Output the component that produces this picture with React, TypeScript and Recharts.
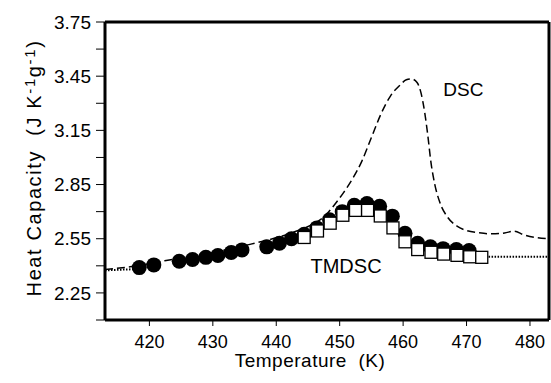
import { ComposedChart, Line, Scatter, XAxis, YAxis, ReferenceDot, ReferenceLine } from "recharts";

const FONT = "'Liberation Sans', Arial, Helvetica, sans-serif";

const X_DOMAIN = [413, 483];
const Y_DOMAIN = [2.1, 3.75];
const X_TICKS = [420, 430, 440, 450, 460, 470, 480];
const Y_TICKS = [2.1, 2.25, 2.4, 2.55, 2.7, 2.85, 3.0, 3.15, 3.3, 3.45, 3.6, 3.75];
const Y_LABELED = ["2.25", "2.55", "2.85", "3.15", "3.45", "3.75"];

// conventional DSC trace (dashed)
const DSC_T = [
  413, 418, 422.4, 426, 430, 433, 436, 440, 443, 446, 447.5, 449, 450.5, 452, 453.5, 455, 456.5,
  458, 459.5, 460.5, 461.3, 462.2, 462.8, 463.4, 463.9, 464.4, 465, 465.8, 467, 468.5, 470, 472,
  474, 476, 477.5, 479, 481, 483,
];
const DSC_CP = [
  2.38, 2.4, 2.428, 2.45, 2.475, 2.495, 2.52, 2.555, 2.59, 2.635, 2.67, 2.73, 2.8, 2.88, 2.98,
  3.11, 3.24, 3.34, 3.4, 3.43, 3.435, 3.415, 3.36, 3.25, 3.12, 2.97, 2.85, 2.75, 2.67, 2.62, 2.595,
  2.583, 2.577, 2.582, 2.592, 2.572, 2.556, 2.55,
];

// TMDSC, filled circles
const CIRCLE_T = [
  418.4, 420.7, 424.7, 426.8, 428.9, 430.8, 432.9, 434.6, 438.5, 440.5, 442.4, 444.4, 446.4,
  448.4, 450.4, 452.3, 454.3, 456.3, 458.3, 460.3, 462.3, 464.3, 466.3, 468.4, 470.4,
];
const CIRCLE_CP = [
  2.39, 2.405, 2.425, 2.435, 2.447, 2.457, 2.474, 2.488, 2.505, 2.525, 2.55, 2.575, 2.61,
  2.655, 2.7, 2.735, 2.745, 2.73, 2.675, 2.58, 2.525, 2.505, 2.495, 2.49, 2.485,
];

// TMDSC, open squares
const SQUARE_T = [
  444.4, 446.5, 448.5, 450.5, 452.5, 454.4, 456.4, 458.4, 460.3, 462.3, 464.4, 466.4, 468.5,
  470.5, 472.4,
];
const SQUARE_CP = [
  2.557, 2.593, 2.636, 2.68, 2.707, 2.707, 2.676, 2.61, 2.533, 2.49, 2.475, 2.465, 2.458,
  2.45, 2.447,
];

// dotted baseline ends
const BASE_LEFT_T = [413, 418];
const BASE_LEFT_CP = [2.375, 2.382];
const BASE_RIGHT_T = [473, 483];
const BASE_RIGHT_CP = [2.45, 2.45];

const zip = (t: number[], cp: number[]) => t.map((x, i) => ({ t: x, cp: cp[i] }));

const dscData = zip(DSC_T, DSC_CP);
const circleData = zip(CIRCLE_T, CIRCLE_CP);
const squareData = zip(SQUARE_T, SQUARE_CP);
const baseLeft = zip(BASE_LEFT_T, BASE_LEFT_CP);
const baseRight = zip(BASE_RIGHT_T, BASE_RIGHT_CP);

const Dot = (p: any) => <circle cx={p.cx} cy={p.cy} r={7.5} fill="#000" />;
const Box = (p: any) => (
  <rect x={p.cx - 6} y={p.cy - 6} width={12} height={12} fill="#fff" stroke="#000" strokeWidth={1.3} />
);

function XTitle(props: any) {
  const vb = props.viewBox;
  return (
    <text x={vb.x + vb.width / 2 - 17} y={vb.y + 47} textAnchor="middle" fontSize={19} letterSpacing={0.5}
      fontFamily={FONT} fill="#000">
      Temperature{"\u00a0 "}(K)
    </text>
  );
}

function YTitle(props: any) {
  const vb = props.viewBox;
  const cx = 41;
  const cy = vb.y + vb.height / 2 - 3;
  return (
    <text transform={`translate(${cx},${cy}) rotate(-90)`} textAnchor="middle" fontSize={20} letterSpacing={1.6}
      fontFamily={FONT} fill="#000">
      Heat Capacity{"\u00a0 "}(J K
      <tspan dy={-6} fontSize={15}>-1</tspan>
      <tspan dy={6}>g</tspan>
      <tspan dy={-6} fontSize={15}>-1</tspan>
      <tspan dy={6}>)</tspan>
    </text>
  );
}

export default function App() {
  const tickStyle = { fill: "#000", fontSize: 18, fontFamily: FONT };
  const frame = { stroke: "#000", strokeWidth: 3 };
  return (
    <div style={{ position: "absolute", left: 0, top: 0, background: "#fff" }}>
      <ComposedChart width={551} height={383} margin={{ top: 22, right: 2, bottom: 0, left: 0 }}>
        <XAxis
          type="number"
          dataKey="t"
          domain={X_DOMAIN}
          ticks={X_TICKS}
          allowDataOverflow
          height={63}
          tickSize={6}
          tickMargin={9}
          tick={tickStyle}
          axisLine={frame}
          tickLine={{ stroke: "#000", strokeWidth: 1 }}
          label={<XTitle />}
        />
        <YAxis
          type="number"
          dataKey="cp"
          domain={Y_DOMAIN}
          ticks={Y_TICKS}
          allowDataOverflow
          interval={0}
          width={105}
          tickSize={9}
          tickMargin={5}
          tick={{ ...tickStyle, fontSize: 19 }}
          tickFormatter={(v: number) => (Y_LABELED.includes(v.toFixed(2)) ? v.toFixed(2) : "")}
          axisLine={frame}
          tickLine={{ stroke: "#000", strokeWidth: 1 }}
          label={<YTitle />}
        />
        <ReferenceLine y={Y_DOMAIN[1]} stroke="#000" strokeWidth={3} ifOverflow="visible" />
        <ReferenceLine x={X_DOMAIN[1]} stroke="#000" strokeWidth={3} ifOverflow="visible" />
        <Line data={dscData} dataKey="cp" type="monotone" stroke="#000" strokeWidth={1.5} strokeDasharray="8 4"
          dot={false} activeDot={false} isAnimationActive={false} />
        <Line data={baseLeft} dataKey="cp" type="linear" stroke="#000" strokeWidth={2} strokeDasharray="1.5 1.5"
          dot={false} activeDot={false} isAnimationActive={false} />
        <Line data={baseRight} dataKey="cp" type="linear" stroke="#000" strokeWidth={2} strokeDasharray="1.5 1.5"
          dot={false} activeDot={false} isAnimationActive={false} />
        <Scatter data={circleData} dataKey="cp" shape={Dot} isAnimationActive={false} />
        <Scatter data={squareData} dataKey="cp" shape={Box} isAnimationActive={false} />
        <ReferenceDot x={469.5} y={3.375} r={0} ifOverflow="visible"
          label={{ value: "DSC", position: "center", fill: "#000", fontSize: 19, fontFamily: FONT }} />
        <ReferenceDot x={451} y={2.399} r={0} ifOverflow="visible"
          label={{ value: "TMDSC", position: "center", fill: "#000", fontSize: 20, fontFamily: FONT }} />
      </ComposedChart>
    </div>
  );
}
